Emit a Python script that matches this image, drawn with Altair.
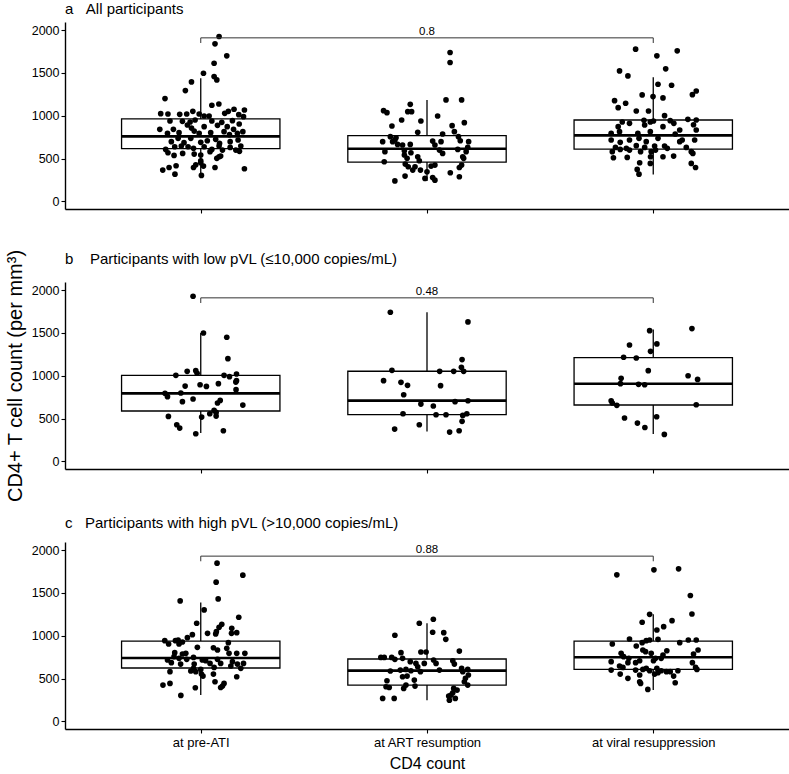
import altair as alt
import pandas as pd

GROUPS = ["at pre-ATI", "at ART resumption", "at viral resuppression"]
PANEL_TITLES = [
    "a\u00a0\u00a0\u00a0All participants",
    "b\u00a0\u00a0\u00a0\u00a0Participants with low pVL (\u226410,000 copies/mL)",
    "c\u00a0\u00a0\u00a0Participants with high pVL (>10,000 copies/mL)",
]
P_VALUES = ["0.8", "0.48", "0.88"]
BRACKET_Y = [1910, 1910, 1930]
TITLE_OFFSETS = [-7, -30, -1]

# box statistics per panel, one value per group (pre-ATI, ART resumption, viral resuppression)
A_Q1 = [616, 460, 612]
A_MED = [760, 616, 772]
A_Q3 = [963, 768, 951]
A_LO = [304, 240, 316]
A_HI = [1439, 1185, 1450]

B_Q1 = [589, 546, 659]
B_MED = [795, 710, 908]
B_Q3 = [1006, 1053, 1213]
B_LO = [331, 351, 320]
B_HI = [1501, 1742, 1540]

C_Q1 = [624, 425, 608]
C_MED = [741, 593, 749]
C_Q3 = [939, 729, 939]
C_LO = [308, 249, 366]
C_HI = [1390, 1146, 1251]

# individual points: (CD4 count, horizontal jitter in category units)
A_PRE = [(1926,.081),(1840,.063),(1700,.115),(1614,.059),(1497,.012),(1458,.059),(1419,.071),(1396,-.041),
         (1294,-.068),(1201,-.158),(1123,.049),(1138,.080),(1025,-.177),(1021,-.145),(1017,-.093),(1021,-.062),
         (1052,-.035),(1021,-.007),(998,.015),(998,.037),(1029,.106),(1052,.122),(1076,.147),(1013,.168),
         (1068,.193),(939,-.136),(935,-.081),(928,-.047),(951,-.025),(939,.049),(924,.093),(943,.140),
         (990,.189),(842,-.181),(842,-.121),(893,-.059),(857,-.041),(873,.015),(889,.074),(873,.117),
         (842,.145),(904,.170),(795,-.147),(803,-.096),(822,-.029),(795,-.007),(803,.044),(815,.103),
         (780,.127),(795,.162),(815,.186),(698,-.130),(737,-.100),(686,-.074),(737,-.044),(690,0),
         (709,.029),(725,.066),(678,.083),(698,.130),(717,.165),(608,-.155),(639,-.115),(647,-.086),
         (639,-.056),(620,-.032),(639,.015),(608,.049),(647,.081),(600,.096),(631,.130),(600,.155),
         (647,.177),(569,-.145),(538,-.118),(561,-.080),(553,-.029),(542,0),(581,.041),(522,.081),
         (585,.171),(475,0),(503,.071),(530,.088),(366,-.168),(397,-.140),(319,-.114),(417,-.109),
         (397,-.032),(428,-.022),(452,0),(413,.012),(397,.063),(382,.193),(304,.003)]
A_ART = [(1739,.102),(1622,.102),(1060,-.192),(1037,-.177),(1134,-.074),(1048,-.085),(1048,-.068),(951,-.112),
         (939,-.027),(881,-.155),(1185,.084),(1185,.153),(998,.047),(920,.165),(807,-.041),(885,.111),
         (756,-.162),(744,-.137),(787,.069),(815,.121),(756,.139),(698,-.196),(698,-.152),(666,-.130),
         (717,-.142),(659,-.108),(666,-.074),(705,.025),(698,.062),(659,.035),(709,.147),(698,.184),
         (581,-.186),(592,-.100),(569,-.071),(600,.055),(561,.069),(608,.136),(581,.173),(631,.180),
         (464,-.189),(542,-.100),(503,-.088),(522,-.041),(475,-.034),(522,.158),(503,.162),(436,-.096),
         (405,-.083),(366,-.063),(405,-.053),(366,-.029),(347,0),(413,.018),(425,.035),(397,.143),
         (425,.153),(335,.103),(296,-.097),(269,-.009),(280,.025),(249,.035),(240,-.142),(288,.143)]
A_VIR = [(1778,-.078),(1758,.106),(1700,.016),(1548,.055),(1524,-.149),(1466,-.112),(1368,.021),(1357,.081),
         (1247,.173),(1290,.190),(1244,-.049),(1224,-.001),(1209,.043),(1177,-.171),(1146,-.122),(1095,-.155),
         (1056,-.075),(1056,-.021),(1002,.050),(928,-.137),(912,-.105),(947,-.041),(928,-.013),(939,.001),
         (943,.075),(912,.091),(959,.153),(951,.190),(873,-.155),(893,-.038),(873,.043),(834,.117),
         (896,.178),(795,-.186),(815,-.149),(795,-.068),(815,-.013),(787,.097),(834,.190),(717,-.186),
         (690,-.146),(717,-.105),(737,-.063),(698,-.031),(737,.021),(698,.117),(717,.128),(717,.183),
         (631,-.167),(620,-.119),(651,-.075),(631,-.038),(647,.006),(647,.050),(620,.062),(631,.146),
         (581,-.181),(608,-.146),(600,-.105),(581,-.056),(581,-.009),(600,.010),(581,.168),(561,.175),
         (510,-.176),(514,-.115),(522,-.012),(522,.043),(530,.090),(444,.168),(397,.187),(452,-.060),
         (444,-.013),(374,-.071),(319,-.063)]

B_PRE = [(1929,-.034),(1500,.012),(1450,.115),(1200,.120),(1052,-.060),(1060,-.022),(1005,-.110),(1005,.103),
         (1021,.158),(1030,-.016),(990,.127),(943,.158),(927,.155),(880,-.069),(896,-.003),(876,.025),
         (908,.078),(838,.156),(795,-.158),(756,-.147),(799,-.088),(729,-.034),(698,-.081),(713,.086),
         (682,.074),(658,.186),(596,.059),(573,.068),(557,.040),(530,.068),(518,.004),(526,-.143),
         (429,-.106),(390,-.093),(323,-.022),(358,.100)]
B_ART = [(1742,-.162),(1629,.181),(1189,.155),(1099,.152),(1052,.162),(1064,-.155),(1052,.056),(1052,.118),
         (943,-.192),(924,-.115),(889,-.086),(885,.060),(779,-.103),(670,-.027),(647,.028),(698,.124),
         (709,.181),(557,-.106),(545,.040),(545,.084),(538,.158),(557,.176),(468,.155),(378,-.143),
         (429,-.034),(343,.100),(358,.142)]
B_VIR = [(1527,-.016),(1551,.171),(1372,.016),(1360,-.105),(1286,-.012),(1216,-.131),(1208,-.075),(1060,-.022),
         (970,-.142),(908,-.145),(900,-.065),(896,-.038),(1001,.154),(958,.196),(709,-.186),(682,-.181),
         (655,-.161),(662,.190),(507,-.127),(448,-.070),(397,-.037),(522,.015),(316,.049)]

C_PRE = [(1848,.072),(1708,.186),(1626,.068),(1431,.077),(1407,-.091),(1302,.015),(1216,.168),(1146,-.018),
         (1134,.093),(1099,.081),(1048,.069),(1013,-.037),(978,-.059),(1088,.137),(1029,.136),(1037,.159),
         (1029,.030),(1021,.066),(943,-.159),(904,-.142),(943,-.112),(904,-.096),(928,-.081),(951,-.100),
         (865,-.015),(861,.056),(834,.074),(920,.122),(854,.115),(803,-.115),(787,-.081),(795,-.066),
         (795,.125),(795,.159),(795,.195),(717,-.147),(756,-.118),(737,-.096),(725,-.062),(748,-.032),
         (717,.007),(709,.022),(725,.074),(678,.088),(698,.140),(670,.162),(678,.189),(686,-.130),
         (670,-.089),(670,-.029),(678,.041),(620,-.032),(608,0),(631,.059),(647,.133),(620,.177),
         (589,-.044),(581,-.022),(553,.003),(530,.010),(581,-.136),(553,.056),(522,.159),(425,-.167),
         (444,-.136),(464,.063),(444,.103),(393,-.024),(397,.088),(413,.096),(304,-.088)]
C_ART = [(1146,-.034),(1193,.028),(1006,-.142),(1041,.025),(1037,.074),(959,.083),(822,.143),(811,-.027),
         (811,-.004),(748,-.204),(748,-.189),(748,-.156),(725,-.142),(803,-.115),(737,-.108),(698,-.074),
         (678,-.049),(678,-.012),(717,.029),(678,.040),(709,.114),(670,.121),(589,-.162),(600,-.118),
         (608,-.093),(592,-.071),(639,-.041),(581,-.029),(600,.055),(620,.153),(608,.180),(581,.158),
         (542,.183),(503,.170),(522,-.108),(530,-.088),(475,-.177),(483,-.056),(464,.165),(425,.180),
         (405,-.181),(397,-.167),(386,-.103),(425,-.093),(413,-.053),(386,.118),(366,.133),(335,.114),
         (308,.106),(296,.096),(269,.125),(249,.099),(269,-.196),(269,-.145)]
C_VIR = [(1712,-.161),(1770,.003),(1782,.112),(1470,.164),(1255,.171),(1251,-.016),(1158,-.049),(1177,.083),
         (1107,.046),(1068,.016),(904,-.181),(963,-.105),(920,-.049),(943,-.031),(951,-.016),(959,.021),
         (920,.117),(951,.155),(951,.190),(881,-.075),(834,-.046),(815,-.034),(795,-.142),(826,.060),
         (776,.043),(795,-.009),(834,.198),(787,.178),(756,-.131),(737,-.108),(737,.010),(737,.035),
         (698,-.186),(686,-.112),(686,-.078),(709,-.060),(709,.001),(686,.173),(647,-.149),(631,-.134),
         (620,-.031),(620,.016),(631,.187),(600,-.186),(600,-.078),(608,-.046),(592,-.016),(592,.035),
         (581,.058),(581,.075),(592,.109),(608,.193),(553,-.146),(503,-.112),(542,-.060),(553,.006),
         (569,.021),(530,.090),(464,-.060),(452,.097),(444,-.056),(374,-.024)]

PANELS = [
    (A_PRE, A_ART, A_VIR, A_Q1, A_MED, A_Q3, A_LO, A_HI),
    (B_PRE, B_ART, B_VIR, B_Q1, B_MED, B_Q3, B_LO, B_HI),
    (C_PRE, C_ART, C_VIR, C_Q1, C_MED, C_Q3, C_LO, C_HI),
]

FONT = "Liberation Sans"
X_SCALE = alt.Scale(domain=[0.4, 3.6], nice=False, zero=False)
Y_SCALE = alt.Scale(domain=[-88, 2095], nice=False, zero=False)
LABEL_EXPR = "['" + "','".join(GROUPS) + "'][datum.value - 1]"


def make_panel(k):
    pre, art, vir, q1, med, q3, lo, hi = PANELS[k]
    bottom = k == 2
    rows = []
    for gi, pts in enumerate([pre, art, vir]):
        for v, dx in pts:
            rows.append({"xpos": gi + 1 + dx, "cd4": v})
    pts_df = pd.DataFrame(rows)
    box_df = pd.DataFrame({
        "g": [1, 2, 3],
        "gl": [i - 0.35 for i in (1, 2, 3)],
        "gr": [i + 0.35 for i in (1, 2, 3)],
        "q1": q1, "med": med, "q3": q3, "lo": lo, "hi": hi,
    })
    br_df = pd.DataFrame({
        "x1": [1], "x2": [3], "xm": [2],
        "y": [BRACKET_Y[k]], "y2": [BRACKET_Y[k] - 60], "lab": [P_VALUES[k]],
    })

    x_axis = alt.Axis(values=[1, 2, 3], labels=bottom, labelExpr=LABEL_EXPR,
                      title="CD4 count" if bottom else None)
    y_axis = alt.Axis(values=[0, 500, 1000, 1500, 2000], format="d",
                      title="CD4+ T cell count (per mm\u00b3)" if k == 1 else None)

    def X(f):
        return alt.X(f, type="quantitative", scale=X_SCALE, axis=x_axis)

    def Y(f):
        return alt.Y(f, type="quantitative", scale=Y_SCALE, axis=y_axis)

    whisk_lo = alt.Chart(box_df).mark_rule(color="black", strokeWidth=1.3).encode(
        x=X("g"), y=Y("lo"), y2="q1")
    whisk_hi = alt.Chart(box_df).mark_rule(color="black", strokeWidth=1.3).encode(
        x=X("g"), y=Y("q3"), y2="hi")
    box = alt.Chart(box_df).mark_rect(fill="white", stroke="black", strokeWidth=1.3).encode(
        x=X("gl"), x2="gr", y=Y("q1"), y2="q3")
    median = alt.Chart(box_df).mark_rule(color="black", strokeWidth=2.6).encode(
        x=X("gl"), x2="gr", y=Y("med"))
    points = alt.Chart(pts_df).mark_circle(color="black", opacity=1, size=32).encode(
        x=X("xpos"), y=Y("cd4"))
    br_h = alt.Chart(br_df).mark_rule(color="#333333", strokeWidth=1).encode(
        x=X("x1"), x2="x2", y=Y("y"))
    br_l = alt.Chart(br_df).mark_rule(color="#333333", strokeWidth=1).encode(
        x=X("x1"), y=Y("y"), y2="y2")
    br_r = alt.Chart(br_df).mark_rule(color="#333333", strokeWidth=1).encode(
        x=X("x2"), y=Y("y"), y2="y2")
    br_t = alt.Chart(br_df).mark_text(font=FONT, fontSize=11.5, color="black",
                                      baseline="alphabetic", dy=-3).encode(
        x=X("xm"), y=Y("y"), text="lab:N")

    return alt.layer(whisk_lo, whisk_hi, box, median, points, br_h, br_l, br_r, br_t).properties(
        width=724, height=187,
        title=alt.TitleParams(text=PANEL_TITLES[k], anchor="start", frame="group",
                              fontSize=15, fontWeight="normal", font=FONT, color="black",
                              baseline="alphabetic", offset=TITLE_OFFSETS[k]),
    )


chart = alt.vconcat(make_panel(0), make_panel(1), make_panel(2), spacing=73, bounds="flush").properties(
    padding={"left": 5, "top": 2, "right": 0, "bottom": 2}
).configure_view(stroke=None).configure_axis(
    grid=False, domainColor="black", domainWidth=1.4, tickColor="black", tickWidth=1.1,
    tickSize=4, labelColor="black", labelFont=FONT, labelFontSize=12.5, labelPadding=2,
    titleFont=FONT, titleColor="black", titleFontWeight="normal",
).configure_axisX(labelFontSize=13, titleFontSize=16, titlePadding=6, labelPadding=3).configure_axisY(
    titleFontSize=20, titlePadding=6)

chart.save("out.html", embed_options={"renderer": "svg", "actions": False})
